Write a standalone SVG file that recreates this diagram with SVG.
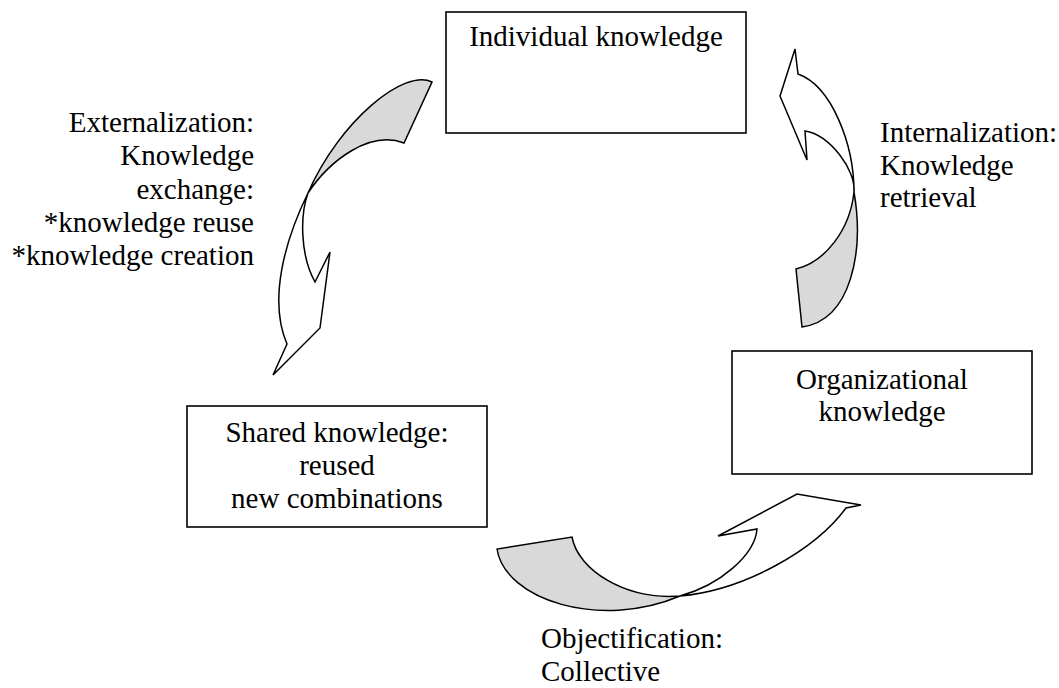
<svg xmlns="http://www.w3.org/2000/svg" width="1059" height="688" viewBox="0 0 1059 688">
  <style>
    .box { fill: #ffffff; stroke: #000000; stroke-width: 1.6; }
    .txt { font-family: "Liberation Serif", "Times New Roman", serif; font-size: 29px; fill: #000000; }
    .mid { text-anchor: middle; }
    .end { text-anchor: end; }
    .under { fill: #d9d9d9; stroke: none; }
    .ribbon { fill: none; stroke: #000000; stroke-width: 1.5; stroke-linejoin: miter; }
  </style>

  <rect width="1059" height="688" fill="#ffffff"/>

  <!-- knowledge stores -->
  <g id="individual">
    <rect class="box" x="446" y="12" width="300" height="121"/>
    <text class="txt mid" x="596" y="46">Individual knowledge</text>
  </g>

  <g id="organizational">
    <rect class="box" x="732" y="351" width="300" height="123"/>
    <text class="txt mid" x="882" y="389">Organizational</text>
    <text class="txt mid" x="882" y="421">knowledge</text>
  </g>

  <g id="shared">
    <rect class="box" x="187" y="406" width="300" height="121"/>
    <text class="txt mid" x="337" y="442">Shared knowledge:</text>
    <text class="txt mid" x="337" y="475">reused</text>
    <text class="txt mid" x="337" y="508">new combinations</text>
  </g>

  <!-- twisted ribbon arrows between the stores; grey = ribbon underside -->
  <g id="connectors">
    <!-- externalization: individual -> shared -->
    <g id="externalization">
      <path class="under" d="M 432,82 C 405,68 340,120 308,193 C 330,160 370,130 404,143 Z"/>
      <path class="ribbon" d="M 432,82 C 405,68 340,120 308,193 C 285,240 268,300 287,344 L 273,375 L 320,328 L 330,252 L 315,282 C 300,255 300,215 308,193 C 330,160 370,130 404,143 Z"/>
    </g>
    <!-- objectification: shared -> organizational -->
    <g id="objectification">
      <path class="under" d="M 497,549 C 505,600 600,630 680,596 C 625,600 578,570 572,537 Z"/>
      <path class="ribbon" d="M 497,549 C 505,600 600,630 680,596 C 745,590 815,550 846,508 L 861,505 L 797,494 L 718,536 L 757,529 C 755,555 720,585 680,596 C 625,600 578,570 572,537 Z"/>
    </g>
    <!-- internalization: organizational -> individual -->
    <g id="internalization">
      <path class="under" d="M 854,192 C 864,250 852,320 802,327 L 796,269 C 825,262 850,230 854,192 Z"/>
      <path class="ribbon" d="M 798,74 C 832,86 854,145 854,192 C 864,250 852,320 802,327 L 796,269 C 825,262 850,230 854,192 C 856,170 830,135 805,131 L 807,160 L 780,96 L 795,49 Z"/>
    </g>
  </g>

  <!-- process labels -->
  <g id="labels">
    <g id="label-externalization">
      <text class="txt end" x="254" y="132">Externalization:</text>
      <text class="txt end" x="254" y="165">Knowledge</text>
      <text class="txt end" x="254" y="199">exchange:</text>
      <text class="txt end" x="254" y="232">*knowledge reuse</text>
      <text class="txt end" x="254" y="265">*knowledge creation</text>
    </g>
    <g id="label-internalization">
      <text class="txt" x="880" y="142">Internalization:</text>
      <text class="txt" x="880" y="175">Knowledge</text>
      <text class="txt" x="880" y="207">retrieval</text>
    </g>
    <g id="label-objectification">
      <text class="txt" x="541" y="648">Objectification:</text>
      <text class="txt" x="541" y="681">Collective</text>
    </g>
  </g>
</svg>
